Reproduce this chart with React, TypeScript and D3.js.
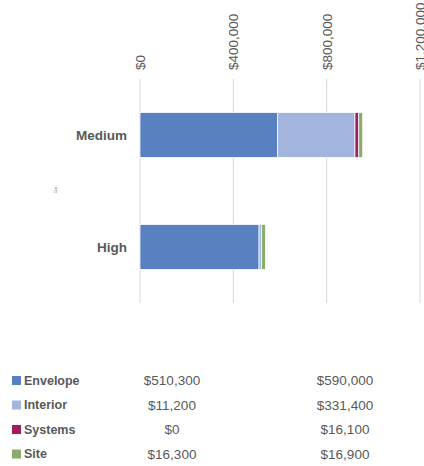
import React from "react";
import * as d3 from "d3";

const categories = ["Medium", "High"];
const series = ["Envelope", "Interior", "Systems", "Site"];
const colors = ["#5981c1", "#a3b5dd", "#a21c5e", "#8aab6b"];
// values per series, in table column order [High, Medium]
const tableColumns = ["High", "Medium"];
const envelope = [510300, 590000];
const interior = [11200, 331400];
const systems = [0, 16100];
const site = [16300, 16900];
const xTicks = [0, 400000, 800000, 1200000];

const seriesValues = [envelope, interior, systems, site];

export default function App() {
  const W = 424, H = 466;
  const x = d3.scaleLinear().domain([0, 1200000]).range([140, 420]);
  const y = d3
    .scaleBand<string>()
    .domain(categories)
    .range([79, 303])
    .paddingInner(0.6)
    .paddingOuter(0.3);
  const fmt = (v: number) => "$" + d3.format(",")(v);

  const rows = categories.map((c) => {
    const col = tableColumns.indexOf(c);
    const obj: any = { cat: c };
    series.forEach((s, i) => (obj[s] = seriesValues[i][col]));
    return obj;
  });
  const stack = d3.stack<any>().keys(series)(rows);

  const font = "'Liberation Sans', Arial, sans-serif";
  const gray = "#595959";

  return (
    <svg width={W} height={H} style={{ position: "absolute", left: 0, top: 0 }} fontFamily={font}>
      <rect width={W} height={H} fill="#fff" />
      {xTicks.map((t) => (
        <g key={t}>
          <line x1={x(t)} x2={x(t)} y1={79} y2={303} stroke="#d9d9d9" strokeWidth={1} />
          <text
            transform={`translate(${x(t) + 5},70) rotate(-90)`}
            textAnchor="start"
            fontSize={13.5}
            fill={gray}
          >
            {fmt(t)}
          </text>
        </g>
      ))}
      {stack.map((layer, i) =>
        layer.map((d: any) => {
          const w = x(d[1]) - x(d[0]);
          if (w <= 0) return null;
          return (
            <rect
              key={series[i] + d.data.cat}
              x={x(d[0])}
              y={y(d.data.cat)!}
              width={w}
              height={y.bandwidth()}
              fill={colors[i]}
              stroke="#fff"
              strokeWidth={0.75}
            />
          );
        })
      )}
      {categories.map((c) => (
        <text
          key={c}
          x={127}
          y={y(c)! + y.bandwidth() / 2}
          dy="0.35em"
          textAnchor="end"
          fontSize={13.5}
          fontWeight="bold"
          fill={gray}
        >
          {c}
        </text>
      ))}
      <text
        transform="translate(57,190) rotate(-90)"
        textAnchor="middle"
        fontSize={3}
        fill={gray}
      >
        Cost
      </text>
      {series.map((s, i) => {
        const ry = 380.5 + i * 24.5;
        return (
          <g key={s}>
            <rect x={12} y={ry - 4.5} width={9} height={9} fill={colors[i]} />
            <text x={24} y={ry} dy="0.35em" fontSize={12.5} fill={gray} fontWeight="bold">
              {s}
            </text>
            {tableColumns.map((c, j) => (
              <text
                key={c}
                x={j === 0 ? 172 : 345}
                y={ry}
                dy="0.35em"
                textAnchor="middle"
                fontSize={13.5}
                fill={gray}
              >
                {fmt(seriesValues[i][j])}
              </text>
            ))}
          </g>
        );
      })}
    </svg>
  );
}
